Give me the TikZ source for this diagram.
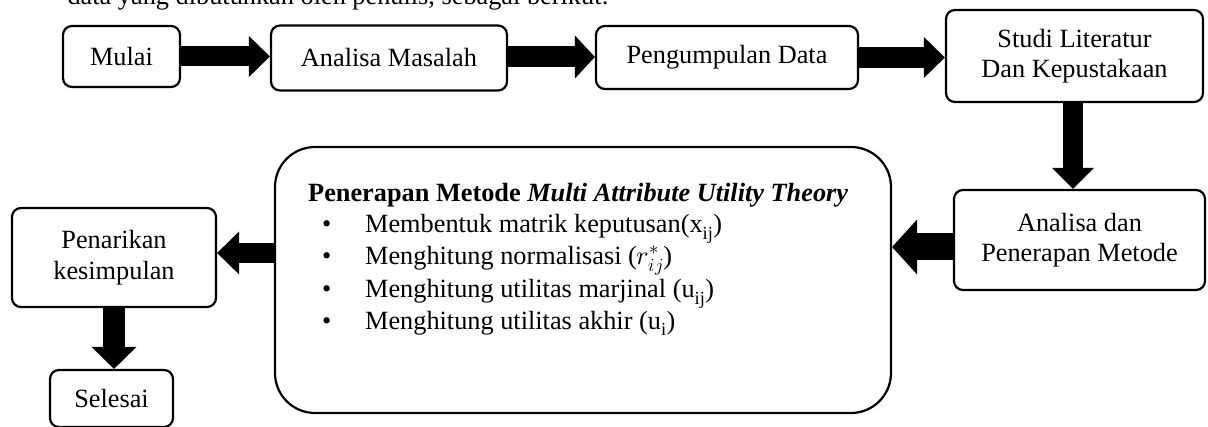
\documentclass[tikz,border=0pt]{standalone}
\usepackage{fontspec}
\usepackage{unicode-math}
\setmainfont{Liberation Serif}
\usetikzlibrary{arrows.meta,calc}
\newcommand\lbl{\fontsize{26.3}{30.5}\selectfont}
\newcommand\itemline[1]{\hspace*{14pt}\makebox[43pt][l]{\textbullet}#1}
\tikzset{
  box/.style={draw, line width=2.2pt, rounded corners=9pt, inner sep=0pt,
    align=center, font=\lbl},
  blk/.style n args={3}{line width=#1,
    -{Triangle[width=#2, length=#3, line width=0pt]}},
}
\begin{document}
\begin{tikzpicture}[x=1pt,y=-1pt]
\useasboundingbox (0,0) rectangle (1208,427);

% line of running text above the chart
\node[anchor=base east, font=\lbl, inner sep=0pt] (lead) at (609,5)
  {data yang dibutuhkan oleh penulis, sebagai berikut:};

% top row
\node[box, minimum width=117pt, minimum height=61pt] (mulai) at (121.5,56.5) {Mulai};
\node[box, minimum width=236pt, minimum height=65pt] (masalah) at (389,58) {Analisa Masalah};
\node[box, minimum width=262pt, minimum height=63pt] (data) at (727,57.5) {Pengumpulan Data};
\node[box, minimum width=257pt, minimum height=92pt] (studi) at (1074.5,56) {Studi Literatur\\Dan Kepustakaan};

% right column
\node[box, minimum width=251pt, minimum height=100pt] (analisa) at (1079.5,240) {Analisa dan\\Penerapan Metode};

% method box
\node[box, rounded corners=40pt, minimum width=616pt, minimum height=266pt] (maut) at (583,280) {};
\node[anchor=north west, align=left, inner sep=0pt,
  font=\fontsize{26.3}{31.5}\selectfont] (mauttxt) at (308,183)
  {\textbf{Penerapan Metode \textit{Multi Attribute Utility Theory}}\\
   \itemline{Membentuk matrik keputusan(x\textsubscript{ij})}\\
   \itemline{Menghitung normalisasi (\ensuremath{r^{*}_{ij}})}\\[2pt]
   \itemline{Menghitung utilitas marjinal (u\textsubscript{ij})}\\
   \itemline{Menghitung utilitas akhir (u\textsubscript{i})}};

% left column
\node[box, minimum width=204pt, minimum height=99pt] (tarik) at (114,257.5) {Penarikan\\kesimpulan};
\node[box, minimum width=123pt, minimum height=57pt] (selesai) at (111.5,398.5) {Selesai};

% block arrows
\draw[blk={20pt}{41pt}{21pt}] (mulai.east) -- (mulai.east -| masalah.west);
\draw[blk={21pt}{43pt}{20pt}] ([yshift=1pt]masalah.east) -- ([yshift=1pt]masalah.east -| data.west);
\draw[blk={21pt}{41pt}{21pt}] (data.east) -- (data.east -| studi.west);
\draw[blk={20pt}{42pt}{21pt}] ([xshift=-1.5pt]studi.south) -- ([xshift=-1.5pt]studi.south |- analisa.north);
\draw[blk={27pt}{55pt}{25pt}] ([yshift=-7pt]analisa.west) -- ([yshift=-7pt]analisa.west -| maut.east);
\draw[blk={20pt}{43pt}{22pt}] ([yshift=4.5pt]tarik.east -| maut.west) -- ([yshift=4.5pt]tarik.east);
\draw[blk={22pt}{45pt}{22pt}] (tarik.south) -- (tarik.south |- selesai.north);
\end{tikzpicture}
\end{document}
